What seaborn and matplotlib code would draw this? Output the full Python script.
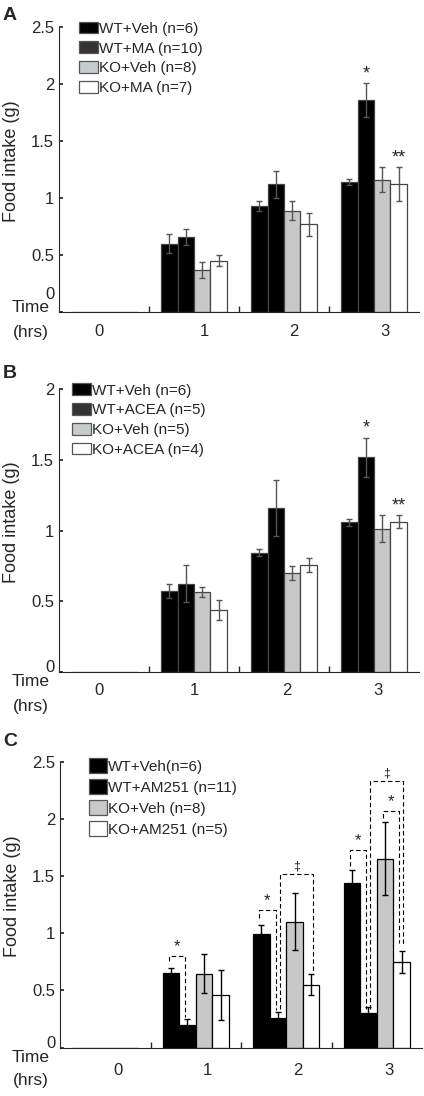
import matplotlib
matplotlib.use("Agg")
import pandas as pd
import matplotlib.pyplot as plt
import seaborn as sns
from matplotlib.patches import Patch
from matplotlib.ticker import FormatStrFormatter
from matplotlib.transforms import ScaledTranslation

hours = ["0", "1", "2", "3"]

# A: methanandamide
a_labels = ["WT+Veh (n=6)", "WT+MA (n=10)", "KO+Veh (n=8)", "KO+MA (n=7)"]
a_mean = [[0, 0.60, 0.93, 1.14], [0, 0.66, 1.12, 1.86],
          [0, 0.37, 0.89, 1.16], [0, 0.45, 0.77, 1.12]]
a_err = [[0, 0.08, 0.04, 0.03], [0, 0.07, 0.12, 0.15],
         [0, 0.07, 0.08, 0.11], [0, 0.05, 0.10, 0.15]]
a_stars = [(3, 1, "*"), (3, 3, "**")]

# B: ACEA
b_labels = ["WT+Veh (n=6)", "WT+ACEA (n=5)", "KO+Veh (n=5)", "KO+ACEA (n=4)"]
b_mean = [[0, 0.575, 0.845, 1.06], [0, 0.625, 1.16, 1.52],
          [0, 0.565, 0.70, 1.015], [0, 0.44, 0.76, 1.065]]
b_err = [[0, 0.05, 0.025, 0.025], [0, 0.13, 0.20, 0.14],
         [0, 0.035, 0.05, 0.095], [0, 0.07, 0.05, 0.045]]
b_stars = [(3, 1, "*"), (3, 3, "**")]

# C: AM251
c_labels = ["WT+Veh(n=6)", "WT+AM251 (n=11)", "KO+Veh (n=8)", "KO+AM251 (n=5)"]
c_mean = [[0, 0.65, 0.99, 1.44], [0, 0.20, 0.26, 0.30],
          [0, 0.645, 1.10, 1.65], [0, 0.46, 0.55, 0.745]]
c_err = [[0, 0.045, 0.08, 0.11], [0, 0.05, 0.05, 0.05],
         [0, 0.17, 0.25, 0.32], [0, 0.22, 0.09, 0.095]]
# hour, left bar, right bar, top, left leg end, right leg end, mark
c_brackets = [
    (1, 0, 1, 0.80, 0.76, 0.27, "*"),
    (2, 0, 1, 1.20, 1.13, 0.33, "*"),
    (2, 1, 3, 1.52, 0.34, 0.67, "‡"),
    (3, 0, 1, 1.73, 1.59, 0.34, "*"),
    (3, 2, 3, 2.07, 2.01, 0.91, "*"),
    (3, 1, 3, 2.33, 0.34, 0.89, "‡"),
]

sns.set_theme(style="ticks")
plt.rcParams["font.family"] = ["Liberation Sans", "DejaVu Sans"]
plt.rcParams["axes.linewidth"] = 0.8

W = 0.73  # total group width
fig = plt.figure(figsize=(4.24, 10.96), dpi=100)


def bar_x(g, h):
    return g + (h - 1.5) * W / 4


def panel(rect, labels, mean, err, ylim, yticks, fills, leg_fills, edge, ecol,
          leg_pos, leg_hl, leg_hh, xlab_pos, zero_up, xpad):
    ax = fig.add_axes(rect)
    rows = []
    for h, lab in enumerate(labels):
        for g, hr in enumerate(hours):
            rows.append({"hour": hr, "group": lab, "mean": mean[h][g]})
    df = pd.DataFrame(rows)
    sns.barplot(data=df, x="hour", y="mean", hue="group", order=hours,
                hue_order=labels, palette=fills, saturation=1, width=W,
                edgecolor=edge, linewidth=0.9, errorbar=None, legend=False, ax=ax)
    for h in range(4):
        for g in range(1, 4):
            ax.errorbar(bar_x(g, h), mean[h][g], yerr=err[h][g], fmt="none",
                        ecolor=ecol, elinewidth=1.0, capsize=2, capthick=1.0)
    ax.set_xlim(-0.5, 3.5)
    ax.set_ylim(*ylim)
    ax.set_yticks(yticks)
    ax.yaxis.set_major_formatter(FormatStrFormatter("%g"))
    ax.tick_params(axis="y", direction="in", length=3, labelsize=12, pad=3.5)
    ax.set_xticks(xlab_pos, hours)
    ax.set_xticks([0.5, 1.5, 2.5], minor=True)
    ax.tick_params(axis="x", which="major", length=0, labelsize=12, pad=xpad)
    ax.tick_params(axis="x", which="minor", direction="in", length=4)
    ax.set_xlabel("")
    ax.set_ylabel("Food intake (g)", fontsize=13)
    ax.yaxis.set_label_coords(-0.108, 0.53)
    sns.despine(ax=ax)
    for t in ax.get_yticklabels():
        if t.get_text() == "0":
            t.set_transform(t.get_transform() +
                            ScaledTranslation(0, zero_up / 100, fig.dpi_scale_trans))
    handles = [Patch(facecolor=c, edgecolor="#555555", linewidth=0.9, label=l)
               for c, l in zip(leg_fills, labels)]
    ax.legend(handles=handles, loc="upper left", bbox_to_anchor=leg_pos,
              frameon=False, fontsize=11, handlelength=leg_hl, handleheight=leg_hh,
              handletextpad=0.1, labelspacing=0.36, borderpad=0, borderaxespad=0)
    return ax


def stars(ax, mean, err, marks):
    for g, h, m in marks:
        ax.text(bar_x(g, h), mean[h][g] + err[h][g] + 0.005, m, ha="center",
                va="bottom", fontsize=13)


axA = panel([59 / 424, 784 / 1096, 360 / 424, 285 / 1096], a_labels, a_mean, a_err,
            (0, 2.5), [0, 0.5, 1, 1.5, 2, 2.5],
            ["black", "black", "#c8c8c8", "white"],
            ["black", "#333333", "#c5cccc", "white"], "#444444", "#555555",
            (0.056, 1.019), 1.22, 0.82, [-0.06, 1.11, 2.11, 3.12], 19, 8.5)
stars(axA, a_mean, a_err, a_stars)

axB = panel([59 / 424, 424 / 1096, 360 / 424, 282.5 / 1096], b_labels, b_mean, b_err,
            (0, 2), [0, 0.5, 1, 1.5, 2],
            ["black", "black", "#c8c8c8", "white"],
            ["black", "#333333", "#c5cccc", "white"], "#444444", "#555555",
            (0.036, 1.022), 1.22, 0.82, [-0.06, 1.0, 2.03, 3.04], 6, 8)
stars(axB, b_mean, b_err, b_stars)

axC = panel([60 / 424, 48.5 / 1096, 362 / 424, 285.8 / 1096], c_labels, c_mean, c_err,
            (0, 2.5), [0, 0.5, 1, 1.5, 2, 2.5],
            ["black", "black", "#c8c8c8", "white"],
            ["black", "black", "#c8c8c8", "white"], "black", "black",
            (0.080, 1.012), 1.16, 1.1, [0.14, 1.13, 2.13, 3.14], 6, 11)

for g, hl, hr, top, lb, rb, m in c_brackets:
    d = -0.025 if m == "*" else 0.02
    xl, xr = bar_x(g, hl) + d, bar_x(g, hr) + d
    axC.plot([xl, xl, xr, xr], [lb, top, top, rb], color="black", lw=0.8,
             dashes=(4, 2.5))
    axC.text((xl + xr) / 2, top + 0.015, m, ha="center", va="bottom",
             fontsize=12 if m == "*" else 9)

# panel letters and time labels
for letter, y in [("A", 15), ("B", 373), ("C", 742)]:
    fig.text(10 / 424, 1 - y / 1096, letter, ha="center", va="center",
             fontsize=14, fontweight="bold")
for y1, y2 in [(310, 333), (684, 707), (1059, 1081)]:
    fig.text(31 / 424, 1 - (y1 - 2) / 1096, "Time", ha="center", va="center",
             fontsize=12.5)
    fig.text(31 / 424, 1 - (y2 - 1) / 1096, "(hrs)", ha="center", va="center",
             fontsize=12.5)

fig.savefig("out.png", dpi=100)
